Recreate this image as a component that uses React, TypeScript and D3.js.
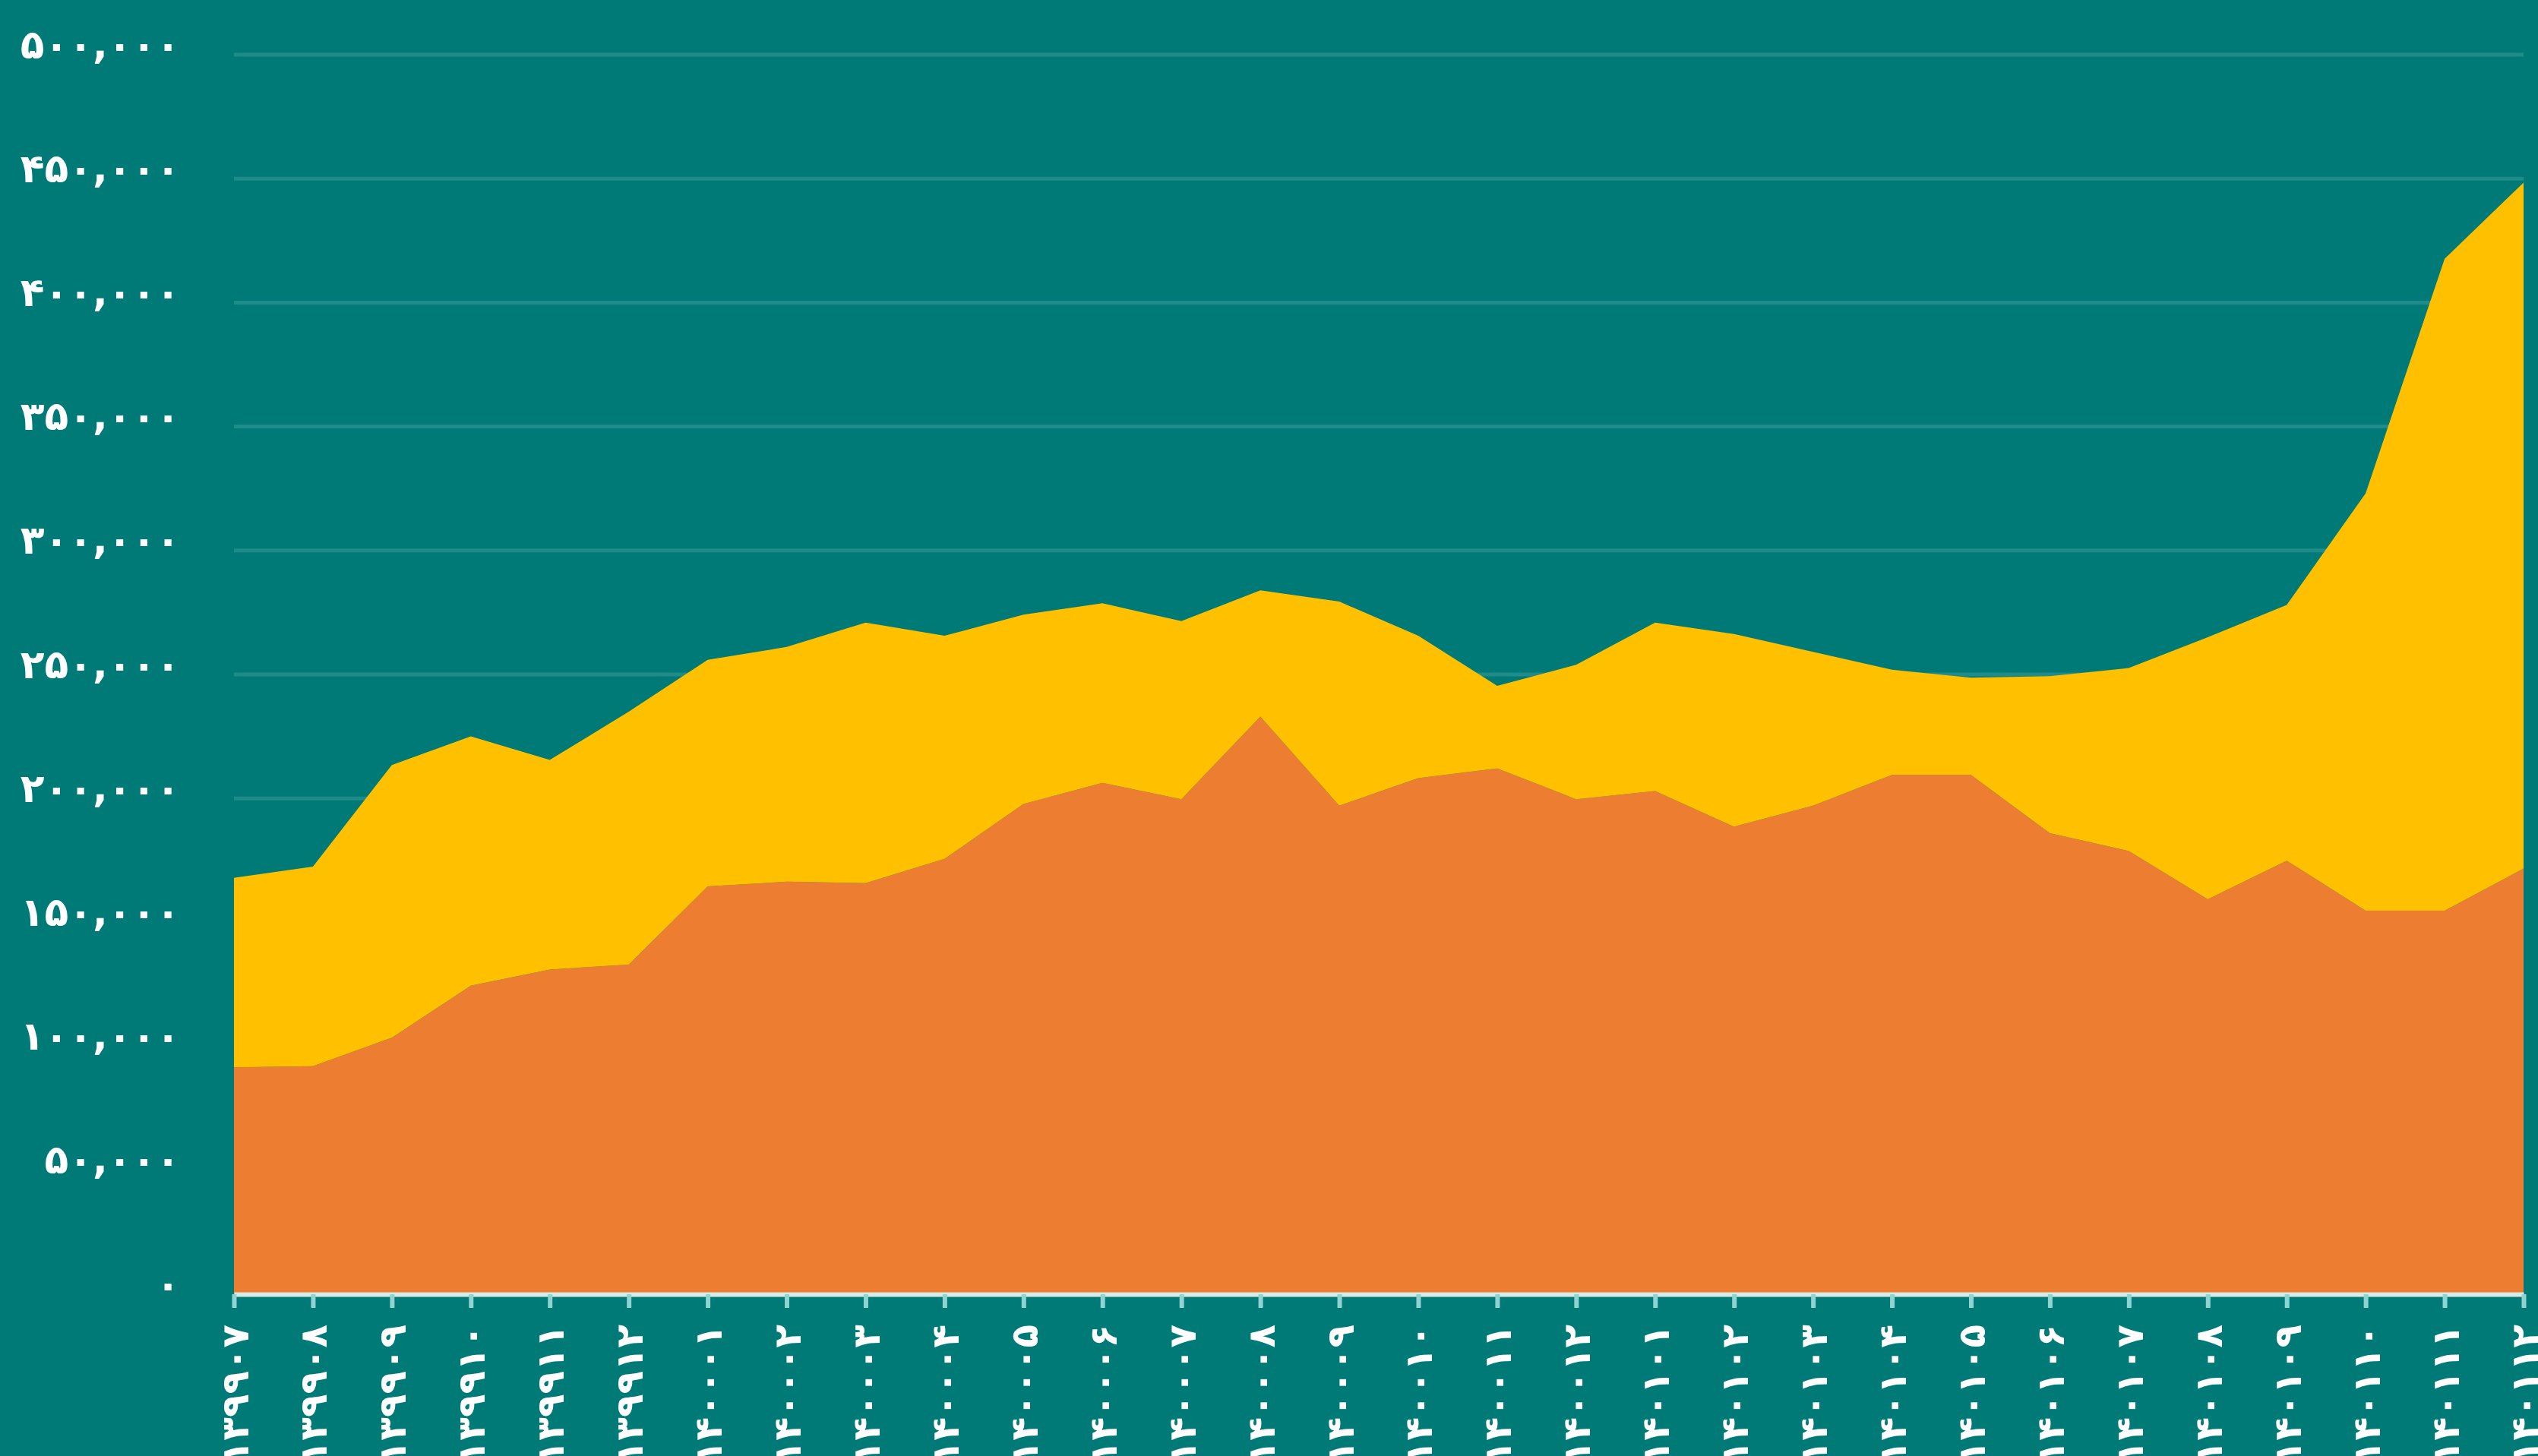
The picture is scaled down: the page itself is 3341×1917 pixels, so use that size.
import React, { useEffect, useRef } from "react";
import { select, scalePoint, scaleLinear, stack, area, axisBottom, axisLeft } from "d3";

const WIDTH = 3341;
const HEIGHT = 1917;

// month labels (yyyymm, Persian digits)
const months = [
  "۱۳۹۹۰۷", "۱۳۹۹۰۸", "۱۳۹۹۰۹", "۱۳۹۹۱۰", "۱۳۹۹۱۱", "۱۳۹۹۱۲",
  "۱۴۰۰۰۱", "۱۴۰۰۰۲", "۱۴۰۰۰۳", "۱۴۰۰۰۴", "۱۴۰۰۰۵", "۱۴۰۰۰۶",
  "۱۴۰۰۰۷", "۱۴۰۰۰۸", "۱۴۰۰۰۹", "۱۴۰۰۱۰", "۱۴۰۰۱۱", "۱۴۰۰۱۲",
  "۱۴۰۱۰۱", "۱۴۰۱۰۲", "۱۴۰۱۰۳", "۱۴۰۱۰۴", "۱۴۰۱۰۵", "۱۴۰۱۰۶",
  "۱۴۰۱۰۷", "۱۴۰۱۰۸", "۱۴۰۱۰۹", "۱۴۰۱۱۰", "۱۴۰۱۱۱", "۱۴۰۱۱۲",
];

// bottom layer (orange)
const lower = [
  91500, 92000, 103500, 124500, 131000, 133000, 164500, 166400, 165800, 175600,
  197800, 206300, 199700, 233000, 197100, 208200, 212100, 199700, 203000, 188600,
  197100, 209500, 209500, 186000, 178800, 159300, 174900, 154700, 154700, 171700,
];

// top layer (yellow), stacked on the orange one
const upper = [
  76500, 80500, 110000, 100500, 84500, 102000, 91400, 94700, 105100, 90000,
  76300, 72400, 71800, 50900, 82300, 57400, 33300, 54200, 67900, 77700,
  62000, 42400, 39200, 63300, 73800, 105700, 103100, 168400, 263000, 276700,
];

const yTicks = [0, 50000, 100000, 150000, 200000, 250000, 300000, 350000, 400000, 450000, 500000];
const yTickLabels = [
  "۰", "۵۰,۰۰۰", "۱۰۰,۰۰۰", "۱۵۰,۰۰۰", "۲۰۰,۰۰۰", "۲۵۰,۰۰۰",
  "۳۰۰,۰۰۰", "۳۵۰,۰۰۰", "۴۰۰,۰۰۰", "۴۵۰,۰۰۰", "۵۰۰,۰۰۰",
];

const keys = ["lower", "upper"];
const colors = { lower: "#ED7D31", upper: "#FFC000" };

function StackedArea() {
  const svgRef = useRef(null);

  useEffect(() => {
    const svg = select(svgRef.current);
    const left = 308, right = 3322, top = 72, bottom = 1704;

    const data = months.map((m, i) => ({ month: m, lower: lower[i], upper: upper[i] }));
    const layers = stack().keys(keys)(data);

    const xScale = scalePoint().domain(months).range([left, right]);
    const yScale = scaleLinear().domain([0, 500000]).range([bottom, top]);

    // gridlines
    svg.select(".grid")
      .selectAll("line")
      .data(yTicks.filter(d => d > 0))
      .join("line")
      .attr("x1", left)
      .attr("x2", right)
      .attr("y1", d => yScale(d))
      .attr("y2", d => yScale(d))
      .attr("stroke", "#1f8c89")
      .attr("stroke-width", 5);

    const areaGenerator = area()
      .x(d => xScale(d.data.month))
      .y0(d => yScale(d[0]))
      .y1(d => yScale(d[1]));

    svg.select(".layers")
      .selectAll("path")
      .data(layers)
      .join("path")
      .attr("fill", layer => colors[layer.key])
      .attr("d", areaGenerator);

    // x axis - labels run off the bottom edge, as in the source
    const xAxis = axisBottom(xScale).tickSize(18).tickSizeOuter(0);
    const gx = svg.select(".x-axis")
      .attr("transform", `translate(0, ${bottom})`)
      .call(xAxis);
    gx.select(".domain").attr("stroke", "#d7ece6").attr("stroke-width", 6);
    gx.selectAll(".tick line").attr("stroke", "#8fd3d3").attr("stroke-width", 6);
    gx.selectAll(".tick text")
      .attr("transform", "rotate(-90)")
      .attr("x", -40)
      .attr("y", 0)
      .attr("dy", "0.36em")
      .style("text-anchor", "end")
      .attr("fill", "#ffffff")
      .style("font-size", "50px")
      .style("font-weight", "bold")
      .style("font-family", "'DejaVu Sans', sans-serif");

    // y axis
    const yAxis = axisLeft(yScale)
      .tickValues(yTicks)
      .tickFormat((d, i) => yTickLabels[i])
      .tickSize(0)
      .tickPadding(71);
    const gy = svg.select(".y-axis")
      .attr("transform", `translate(${left}, 0)`)
      .call(yAxis);
    gy.select(".domain").remove();
    gy.selectAll(".tick text")
      .attr("dy", "0.08em")
      .attr("fill", "#ffffff")
      .style("font-size", "52px")
      .style("font-weight", "bold")
      .style("font-family", "'DejaVu Sans', sans-serif");
  }, []);

  return (
    <svg
      ref={svgRef}
      width={WIDTH}
      height={HEIGHT}
      style={{ position: "absolute", left: 0, top: 0, display: "block", background: "#007A77" }}
    >
      <rect width={WIDTH} height={HEIGHT} fill="#007A77" />
      <g className="grid" />
      <g className="layers" />
      <g className="x-axis" />
      <g className="y-axis" />
    </svg>
  );
}

export default function App() {
  return <StackedArea />;
}
